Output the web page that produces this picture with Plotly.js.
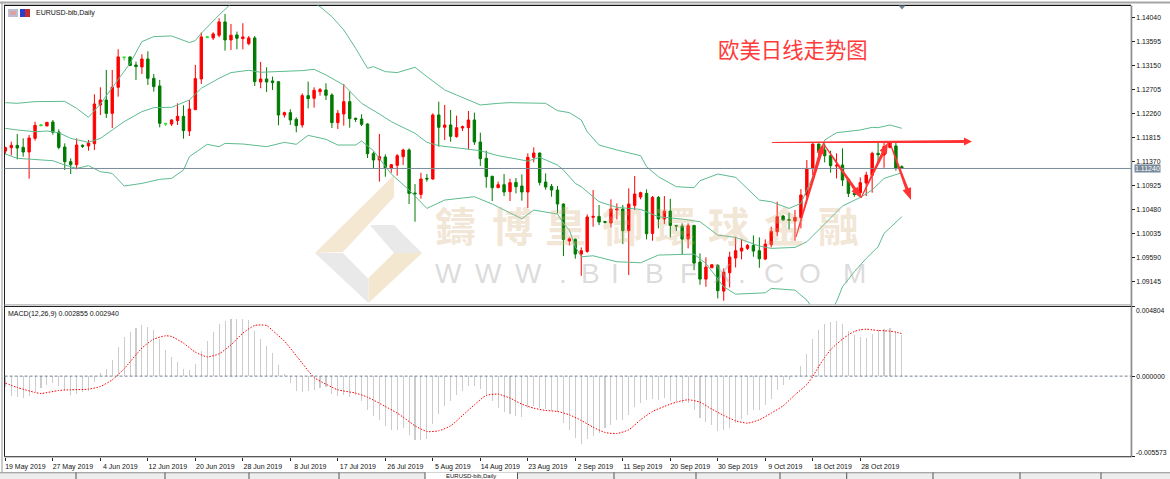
<!DOCTYPE html>
<html><head><meta charset="utf-8">
<script src="https://cdn.plot.ly/plotly-3.0.1.min.js"></script>
<style>html,body{margin:0;padding:0;background:#fff;overflow:hidden}#c{width:1170px;height:479px}</style>
</head><body><div id="c"></div>
<script>
const opens=[1.11564,1.11626,1.11669,1.11632,1.11545,1.11799,1.12053,1.12028,1.12102,1.11917,
1.11638,1.11366,1.11310,1.11669,1.11657,1.11700,1.12418,1.12511,1.12263,1.12746,
1.13310,1.13310,1.13161,1.13124,1.13272,1.12913,1.12771,1.12078,1.12065,1.12127,
1.12208,1.11935,1.12331,1.12901,1.13687,1.13662,1.13712,1.13959,1.13625,1.13718,
1.13650,1.13557,1.13662,1.12845,1.12901,1.12864,1.12851,1.12232,1.12276,1.12152,
1.12047,1.12592,1.12542,1.12666,1.12697,1.12604,1.12090,1.12251,1.12480,1.12171,
1.12158,1.12066,1.11515,1.11397,1.11453,1.11242,1.11298,1.11459,1.11583,1.10784,
1.10759,1.11057,1.11044,1.12233,1.12004,1.12047,1.11830,1.11991,1.11997,1.12140,
1.11731,1.11428,1.11094,1.10883,1.10939,1.10809,1.10982,1.10914,1.10803,1.11447,
1.11527,1.10988,1.10908,1.10840,1.10580,1.09893,1.09924,1.09652,1.09701,1.10333,
1.10351,1.10258,1.10227,1.10469,1.10487,1.10085,1.10555,1.10710,1.10778,1.10035,
1.10704,1.10302,1.10450,1.10184,1.10172,1.09930,1.10184,1.09503,1.09187,1.09398,
1.09441,1.08965,1.09305,1.09577,1.09707,1.09757,1.09813,1.09714,1.09559,1.09825,
1.10066,1.10357,1.10295,1.10264,1.10332,1.10747,1.11242,1.11694,1.11582,1.11477,
1.11285,1.11304,1.11044,1.10778,1.10790,1.10970,1.11112,1.11521,1.11490,1.11632,
1.11657,1.11273];
const highs=[1.11644,1.11737,1.11880,1.11799,1.11861,1.12109,1.12053,1.12102,1.12140,1.11966,
1.11706,1.11428,1.11799,1.11688,1.11768,1.12616,1.12746,1.13068,1.13068,1.13452,
1.13310,1.13316,1.13223,1.13359,1.13415,1.12994,1.12882,1.12078,1.12152,1.12449,
1.12412,1.12511,1.13161,1.13761,1.13687,1.13768,1.14028,1.14108,1.13922,1.13780,
1.13935,1.13699,1.13699,1.13217,1.13118,1.12944,1.12858,1.12294,1.12338,1.12189,
1.12635,1.12852,1.12746,1.12734,1.12821,1.12635,1.12325,1.12808,1.12666,1.12183,
1.12245,1.12078,1.11552,1.11880,1.11502,1.11323,1.11508,1.11607,1.11614,1.10951,
1.11162,1.11137,1.12264,1.12480,1.12418,1.12325,1.12220,1.12035,1.12307,1.12276,
1.11905,1.11570,1.11106,1.10995,1.11137,1.11050,1.11063,1.11131,1.11521,1.11632,
1.11533,1.11149,1.10951,1.10914,1.10592,1.09961,1.09943,1.09775,1.10388,1.10840,
1.10562,1.10264,1.10667,1.10592,1.10562,1.10871,1.11100,1.10809,1.10852,1.10729,
1.10729,1.10729,1.10679,1.10190,1.10221,1.10221,1.10190,1.09664,1.09590,1.09460,
1.09466,1.09385,1.09695,1.09973,1.09936,1.09837,1.09998,1.09961,1.09924,1.10159,
1.10623,1.10376,1.10419,1.10469,1.10858,1.11397,1.11706,1.11700,1.11706,1.11570,
1.11521,1.11613,1.11056,1.10790,1.11075,1.11180,1.11552,1.11725,1.11725,1.11737,
1.11719,1.11298];
const lows=[1.11508,1.11483,1.11409,1.11459,1.11050,1.11756,1.12034,1.12028,1.11867,1.11595,
1.11211,1.11137,1.11223,1.11620,1.11570,1.11582,1.12232,1.12177,1.11991,1.12573,
1.13241,1.13143,1.12882,1.12994,1.12790,1.12666,1.12003,1.12028,1.12028,1.12047,
1.11793,1.11842,1.12325,1.12808,1.13669,1.13625,1.13675,1.13427,1.13439,1.13452,
1.13452,1.13526,1.12771,1.12728,1.12660,1.12697,1.12041,1.12183,1.12047,1.11911,
1.11997,1.12356,1.12369,1.12592,1.12511,1.11991,1.11973,1.12035,1.11997,1.12103,
1.12028,1.11434,1.11242,1.10995,1.11087,1.11162,1.11106,1.11304,1.10580,1.10252,
1.10679,1.10995,1.11032,1.11645,1.11768,1.11737,1.11812,1.11936,1.11595,1.11676,
1.11286,1.10883,1.10636,1.10877,1.10728,1.10636,1.10778,1.10642,1.10506,1.11354,
1.10927,1.10846,1.10716,1.10407,1.09614,1.09813,1.09565,1.09249,1.09676,1.10159,
1.10190,1.10221,1.10147,1.10295,1.09837,1.09262,1.10469,1.10667,1.09924,1.09899,
1.10128,1.10209,1.09961,1.10079,1.09652,1.09757,1.09354,1.09082,1.09045,1.09392,
1.08828,1.08785,1.09033,1.09404,1.09553,1.09726,1.09602,1.09398,1.09540,1.09775,
1.09986,1.10271,1.10110,1.09899,1.10128,1.10666,1.11118,1.11446,1.11353,1.11162,
1.11056,1.10914,1.10710,1.10716,1.10704,1.10728,1.10790,1.11335,1.11254,1.11613,
1.11199,1.11236];
const closes=[1.11626,1.11669,1.11620,1.11545,1.11805,1.12041,1.12034,1.12096,1.11911,1.11632,
1.11366,1.11310,1.11675,1.11651,1.11712,1.12437,1.12511,1.12263,1.12746,1.13310,
1.13297,1.13149,1.13130,1.13272,1.12913,1.12759,1.12078,1.12065,1.12140,1.12208,
1.11942,1.12344,1.12907,1.13681,1.13669,1.13737,1.13959,1.13625,1.13712,1.13656,
1.13681,1.13662,1.12851,1.12901,1.12845,1.12833,1.12232,1.12276,1.12140,1.12034,
1.12592,1.12536,1.12691,1.12703,1.12598,1.12090,1.12264,1.12480,1.12165,1.12152,
1.12059,1.11515,1.11397,1.11459,1.11242,1.11310,1.11477,1.11583,1.10778,1.10772,
1.11044,1.11044,1.12233,1.12004,1.12047,1.11836,1.11997,1.12016,1.12140,1.11731,
1.11422,1.11087,1.10883,1.10939,1.10803,1.10976,1.10902,1.10803,1.11447,1.11527,
1.10982,1.10896,1.10840,1.10580,1.09924,1.09936,1.09652,1.09714,1.10339,1.10351,
1.10246,1.10240,1.10487,1.10487,1.10085,1.10580,1.10766,1.10791,1.10029,1.10704,
1.10302,1.10450,1.10184,1.10172,1.09930,1.10178,1.09484,1.09187,1.09410,1.09453,
1.08971,1.09317,1.09596,1.09714,1.09763,1.09813,1.09707,1.09565,1.09837,1.10073,
1.10345,1.10283,1.10277,1.10333,1.10747,1.11242,1.11694,1.11552,1.11477,1.11292,
1.11298,1.11025,1.10778,1.10759,1.10976,1.11118,1.11521,1.11496,1.11644,1.11719,
1.11242,1.11242];
const dojiBars=[6,20,27,34];

const upperIdx=[0,2,5,10,12,14,16,18,21,23,25,28,31,32,33,36,38,40,46,52,53,55,57,59,61,62,64,66,69,71,74,76,80,83,85,91,93,95,97,98,100,103,107,108,110,113,116,117,120,123,125,127,129,132,134,135,136,137,138,140,144,146,147,149,151];
const upperVal=[1.12461,1.12449,1.12480,1.12486,1.12356,1.12189,1.12437,1.12746,1.13192,1.13594,1.13687,1.13699,1.13576,1.13613,1.13749,1.14089,1.14294,1.14399,1.14678,1.14306,1.14244,1.14058,1.13811,1.13470,1.13099,1.13130,1.13037,1.13019,1.13118,1.12944,1.12697,1.12604,1.12418,1.12449,1.12461,1.12449,1.12313,1.12276,1.12140,1.11923,1.11675,1.11583,1.11477,1.11273,1.11087,1.10902,1.10883,1.11013,1.11137,1.11075,1.10871,1.10654,1.10623,1.10499,1.10592,1.10840,1.11087,1.11459,1.11768,1.11904,1.11954,1.12003,1.11997,1.12047,1.11985];
const middleIdx=[0,2,5,7,9,11,14,16,18,20,23,25,28,31,33,36,38,41,43,47,50,52,54,57,60,63,65,69,71,73,77,80,83,86,88,90,93,94,96,97,100,103,107,110,114,117,120,123,127,129,133,135,138,141,144,146,148,151];
const middleVal=[1.11985,1.11954,1.11923,1.11935,1.11904,1.11799,1.11725,1.11799,1.11954,1.12109,1.12294,1.12369,1.12375,1.12511,1.12728,1.12913,1.13019,1.13062,1.13025,1.13043,1.13056,1.13080,1.12975,1.12789,1.12449,1.12251,1.12109,1.11892,1.11725,1.11663,1.11613,1.11570,1.11477,1.11415,1.11378,1.11446,1.11304,1.11211,1.10963,1.10902,1.10623,1.10518,1.10481,1.10344,1.10301,1.10252,1.10004,1.09961,1.09800,1.09757,1.09775,1.09880,1.10221,1.10543,1.10703,1.10840,1.11056,1.11162];
const lowerIdx=[0,2,8,10,12,14,16,18,20,23,26,28,30,31,34,36,37,40,44,47,49,51,54,56,59,60,62,65,68,71,74,79,82,87,89,93,94,95,96,97,99,103,107,110,116,118,121,123,128,129,133,135,136,137,139,140,141,143,145,147,148,151];
const lowerVal=[1.11508,1.11428,1.11384,1.11304,1.11242,1.11292,1.11180,1.11149,1.10914,1.10963,1.11038,1.11056,1.11211,1.11459,1.11688,1.11644,1.11706,1.11694,1.11644,1.11725,1.11688,1.11855,1.11781,1.11675,1.11675,1.11750,1.11570,1.11137,1.10840,1.10499,1.10654,1.10716,1.10580,1.10307,1.10468,1.10394,1.10221,1.10097,1.09787,1.09602,1.09620,1.09509,1.09490,1.09633,1.09651,1.09478,1.09045,1.08908,1.08933,1.09014,1.08983,1.08797,1.08642,1.08580,1.08580,1.08766,1.09045,1.09323,1.09571,1.09787,1.10035,1.10345];

const macdHist=[-0.000761,-0.001361,-0.001453,-0.001499,-0.001407,-0.001084,-0.000807,-0.000600,-0.000484,-0.000715,
-0.000945,-0.001291,-0.001245,-0.001130,-0.001061,-0.000438,0.000231,0.000507,0.001130,0.001983,
0.002675,0.003044,0.003321,0.003551,0.003413,0.003159,0.002560,0.001776,0.001337,0.000969,
0.000507,0.000392,0.000807,0.001706,0.002444,0.003021,0.003620,0.003782,0.003943,0.003943,
0.003943,0.003897,0.003136,0.002537,0.002052,0.001568,0.000761,0.000161,-0.000484,-0.001061,
-0.001084,-0.001061,-0.000992,-0.000830,-0.000761,-0.001245,-0.001407,-0.001337,-0.001453,-0.001314,
-0.001753,-0.002329,-0.002790,-0.003067,-0.003482,-0.003713,-0.003713,-0.003574,-0.004059,-0.004404,
-0.004451,-0.004358,-0.003298,-0.002629,-0.002052,-0.001706,-0.001337,-0.001015,-0.000669,-0.000669,
-0.000899,-0.001291,-0.001753,-0.002214,-0.002514,-0.002606,-0.002790,-0.002859,-0.002214,-0.002052,
-0.002214,-0.002283,-0.002398,-0.002514,-0.003251,-0.003759,-0.004289,-0.004681,-0.004358,-0.004174,
-0.003943,-0.003597,-0.003413,-0.003067,-0.003067,-0.002675,-0.002145,-0.001868,-0.001637,-0.001568,
-0.001637,-0.001522,-0.001706,-0.001753,-0.001868,-0.001868,-0.002329,-0.002906,-0.003182,-0.003367,
-0.003828,-0.003759,-0.003597,-0.003251,-0.002952,-0.002675,-0.002375,-0.002329,-0.002029,-0.001614,
-0.000992,-0.000600,-0.000254,0.000023,0.000715,0.001545,0.002560,0.003159,0.003574,0.003736,
0.003782,0.003597,0.003136,0.002859,0.002698,0.002652,0.002906,0.003159,0.003251,0.003344,
0.003113,0.002855];
const signalIdx=[0,2,5,6,9,11,14,16,18,20,23,25,27,28,30,32,34,36,38,40,42,44,45,47,50,52,55,56,59,61,64,66,67,69,71,73,75,77,79,81,83,85,87,89,91,93,95,97,99,101,103,105,107,109,111,113,115,117,119,121,123,125,127,129,131,133,135,136,137,138,139,140,141,142,143,144,145,146,147,148,149,150,151];
const signalVal=[-0.000484,-0.000784,-0.001130,-0.001199,-0.000992,-0.000945,-0.000899,-0.000715,-0.000254,0.000507,0.001937,0.002560,0.002790,0.002744,0.002283,0.001660,0.001337,0.001545,0.002168,0.002975,0.003505,0.003505,0.003159,0.002421,0.000899,-0.000092,-0.000761,-0.000945,-0.001176,-0.001453,-0.002098,-0.002560,-0.002836,-0.003436,-0.003828,-0.003782,-0.003436,-0.002721,-0.001983,-0.001337,-0.001245,-0.001522,-0.001937,-0.002214,-0.002375,-0.002444,-0.002675,-0.003067,-0.003528,-0.003897,-0.003966,-0.003713,-0.003021,-0.002444,-0.002098,-0.001799,-0.001637,-0.001799,-0.002283,-0.002721,-0.003090,-0.003251,-0.003021,-0.002560,-0.002052,-0.001291,-0.000576,-0.000023,0.000669,0.001291,0.001822,0.002214,0.002560,0.002859,0.003090,0.003205,0.003251,0.003205,0.003159,0.003136,0.003113,0.003044,0.002940];

const priceTicks=[1.14040,1.13595,1.13150,1.12705,1.12260,1.11815,1.11370,1.10925,1.10480,1.10035,1.09590,1.09145];
const dateLabels=["19 May 2019","27 May 2019","4 Jun 2019","12 Jun 2019","20 Jun 2019","28 Jun 2019","8 Jul 2019","17 Jul 2019","26 Jul 2019","5 Aug 2019","14 Aug 2019","23 Aug 2019","2 Sep 2019","11 Sep 2019","20 Sep 2019","30 Sep 2019","9 Oct 2019","18 Oct 2019","28 Oct 2019"];
const lastPrice=1.11240;
const macdTop=0.004804, macdBottom=-0.005573;

/* page geometry in px */
const W=1170,H=479,L=4.6,R=1131,T1=5.4,B1=304.6,T2=306.7,B2=456.7;
const fx=x=>x/W, fy=y=>1-y/H;
const UI="Liberation Sans";
const xs=opens.map((_,i)=>i);
const pick=(a,f)=>a.filter((_,i)=>f(i));
const isD=i=>dojiBars.includes(i), notD=i=>!isD(i);
const candle=(f,up,dn)=>({type:'candlestick',xaxis:'x',yaxis:'y',x:pick(xs,f),open:pick(opens,f),high:pick(highs,f),low:pick(lows,f),close:pick(closes,f),
  increasing:{line:{color:up,width:1},fillcolor:up},decreasing:{line:{color:dn,width:1},fillcolor:dn},whiskerwidth:0,hoverinfo:'skip',showlegend:false});
const band=(x,y)=>({type:'scatter',mode:'lines',xaxis:'x',yaxis:'y',x:x,y:y,line:{color:'#5dbb8e',width:1},hoverinfo:'skip',showlegend:false});
const traces=[
 candle(notD,'#ff0000','#007a00'),
 candle(isD,'#35e035','#35e035'),
 band(upperIdx,upperVal),band(middleIdx,middleVal),band(lowerIdx,lowerVal),
 {type:'bar',xaxis:'x2',yaxis:'y2',x:xs,y:macdHist,width:0.18,marker:{color:'#cccccc',line:{width:0}},hoverinfo:'skip',showlegend:false},
 {type:'scatter',mode:'lines',xaxis:'x2',yaxis:'y2',x:signalIdx,y:signalVal,line:{color:'#ff0000',width:1,dash:'1.5px 1.5px',shape:'spline',smoothing:0.6},hoverinfo:'skip',showlegend:false}
];

const rect=(x0,y0,x1,y1,fill)=>({type:'rect',xref:'paper',yref:'paper',x0:fx(x0),x1:fx(x1),y0:fy(y0),y1:fy(y1),fillcolor:fill,line:{width:0},layer:'below'});
const poly=(pts,fill,layer,op)=>({type:'path',xref:'paper',yref:'paper',path:'M'+pts.map(p=>fx(p[0])+','+fy(p[1])).join('L')+'Z',fillcolor:fill,line:{width:0},layer:layer||'above',opacity:op==null?1:op});
function arrow(x0,y0,x1,y1,w0,w1,hl,hw){
  const d=Math.hypot(x1-x0,y1-y0),ux=(x1-x0)/d,uy=(y1-y0)/d,nx=-uy,ny=ux,bx=x1-ux*hl,by=y1-uy*hl;
  return poly([[x0+nx*w0/2,y0+ny*w0/2],[bx+nx*w1/2,by+ny*w1/2],[bx+nx*hw/2,by+ny*hw/2],[x1,y1],[bx-nx*hw/2,by-ny*hw/2],[bx-nx*w1/2,by-ny*w1/2],[x0-nx*w0/2,y0-ny*w0/2]],'#ff3333');
}
const tabDividers=[76,165,249,339,425,517.5,614,696,780,846.7,933,1020,1101];
const shapes=[
 /* chrome */
 rect(0,1.5,W,3.6,'#a6a6a6'),rect(1.4,2,2.6,472,'#a6a6a6'),
 rect(L-0.6,T1-0.6,R,T1+0.5,'#111'),rect(L-0.6,T1,L+0.4,B2,'#222'),
 rect(R-0.4,T1,R+1.3,B2+0.6,'#8c8c8c'),
 rect(L,B1-0.4,R,B1+1,'#b0b0b0'),rect(L,T2-0.6,R,T2+0.4,'#222'),rect(L,B2-0.4,R,B2+0.6,'#222'),
 rect(0,472.2,W,479,'#ededed'),rect(0,472.2,W,473.2,'#8f8f8f'),rect(425,472.6,517.5,479,'#ffffff'),
 ...tabDividers.map(x=>rect(x-0.5,472.6,x+0.5,479,'#555555')),
 /* watermark logo */
 poly([[315,253],[394,175],[394,197],[343,252]],'#f4e8d3','below'),
 poly([[370,225],[394,225],[422,253],[394,253]],'#e9e9e9','below'),
 poly([[368.5,278],[394,253],[422,253],[368.5,303]],'#f3e7d0','below'),
 poly([[315,253],[343,253],[368.5,279],[368.5,303]],'#e9e9e9','below'),
 /* last price line */
 {type:'line',xref:'paper',yref:'y',x0:fx(L),x1:fx(R),y0:lastPrice,y1:lastPrice,line:{color:'#7b8b9b',width:1}},
 {type:'line',xref:'paper',yref:'y2',x0:fx(L),x1:fx(R),y0:0,y1:0,line:{color:'#708090',width:1,dash:'3px 2px'}},
 /* small marker on the top edge */
 poly([[898.5,5.5],[905.5,5.5],[902,9.5]],'#6f8296'),
 /* legend icons */
 rect(8,9,18,17,'#b8bed8'),rect(10,11,16,15,'#e0a0a0'),rect(20,9,25,17,'#2a3fd0'),rect(25,9,30,17,'#c03030'),
 /* hand drawn arrows */
 arrow(772,142.6,972,141.4,1,3,8,8),
 arrow(796,237,823.5,143,1,3.5,11,8),
 arrow(823,143,861,198,1,3.2,11,8),
 arrow(861,198,888,142.5,1,3.2,11,8),
 arrow(890,143,911,200,1,3.2,12,9)
];

const note=(x,y,text,size,color,anchor,extra)=>Object.assign({xref:'paper',yref:'paper',x:fx(x),y:fy(y),text:text,showarrow:false,xanchor:anchor||'left',yanchor:'middle',borderpad:0,font:{family:UI,size:size,color:color}},extra||{});
const wmChars=['鑄','博','皇','御','環','球','金','融'], wmX=[455,512,565,622,676,728,785,838];
const urlChars=['W','W','W','.','B','I','B','F','X','.','C','O','M'], urlX=[448,488,528,563,590,615,654,688,722,742,774,810,854];
const annotations=[
 ...wmChars.map((c,i)=>({xref:'paper',yref:'paper',x:fx(wmX[i]),y:fy(224),text:c,showarrow:false,xanchor:'center',yanchor:'middle',font:{family:'Noto Sans CJK TC',size:41,weight:700,color:'rgba(214,176,128,0.32)'}})),
 ...urlChars.map((c,i)=>({xref:'paper',yref:'paper',x:fx(urlX[i]),y:fy(273),text:c,showarrow:false,xanchor:'center',yanchor:'middle',font:{family:'Liberation Sans',size:28,color:'rgba(170,170,170,0.42)'}})),
 note(34.5,13.5,'EURUSD-bib,Daily',7,'#111'),
 note(7,313.5,'MACD(12,26,9) 0.002855 0.002940',7,'#111'),
 note(717,49,'欧美日线走势图',21.4,'#ff3b3b','left',{font:{family:'Noto Sans CJK SC',size:21.4,color:'#ff3b3b'}}),
 note(1134,168.6,'1.11240',7,'#ffffff','left',{bgcolor:'#778899'}),
 note(1135,310.3,macdTop.toFixed(6),6.8,'#111'),
 note(1135,452.8,macdBottom.toFixed(6),6.8,'#111'),
 note(471,476,'EURUSD-bib,Daily',6,'#111','center')
];

const layout={
 width:W,height:H,margin:{l:0,r:0,t:0,b:0,pad:0},paper_bgcolor:'#ffffff',plot_bgcolor:'rgba(0,0,0,0)',
 showlegend:false,hovermode:false,boxgap:0.42,bargap:0,
 xaxis:{domain:[fx(L),fx(R)],range:[-0.13,189.6],anchor:'y',rangeslider:{visible:false},showgrid:false,zeroline:false,showline:false,showticklabels:false,ticks:'',fixedrange:true},
 xaxis2:{domain:[fx(L),fx(R)],range:[-0.13,189.6],anchor:'y2',showgrid:false,zeroline:false,showline:false,
   tickmode:'array',tickvals:dateLabels.map((_,i)=>i*8),ticktext:dateLabels,ticks:'outside',ticklen:3,tickwidth:1,tickcolor:'#222',
   ticklabelshift:20,tickangle:0,tickfont:{family:UI,size:7,color:'#111'},fixedrange:true},
 yaxis:{domain:[fy(B1),fy(T1)],range:[1.08714,1.14266],anchor:'x',side:'right',showgrid:false,zeroline:false,showline:false,
   tickmode:'array',tickvals:priceTicks,ticktext:priceTicks.map(v=>v.toFixed(5)),ticks:'outside',ticklen:3,tickwidth:1,tickcolor:'#222',tickfont:{family:UI,size:6.8,color:'#111'},fixedrange:true},
 yaxis2:{domain:[fy(B2),fy(T2)],range:[macdBottom,macdTop],anchor:'x2',side:'right',showgrid:false,zeroline:false,showline:false,
   tickmode:'array',tickvals:[macdTop,0,macdBottom],ticktext:['','0.000000',''],ticks:'outside',ticklen:3,tickwidth:1,tickcolor:'#222',tickfont:{family:UI,size:6.8,color:'#111'},fixedrange:true},
 shapes:shapes,annotations:annotations
};
Plotly.newPlot('c',traces,layout,{displayModeBar:false,staticPlot:true});
</script></body></html>
